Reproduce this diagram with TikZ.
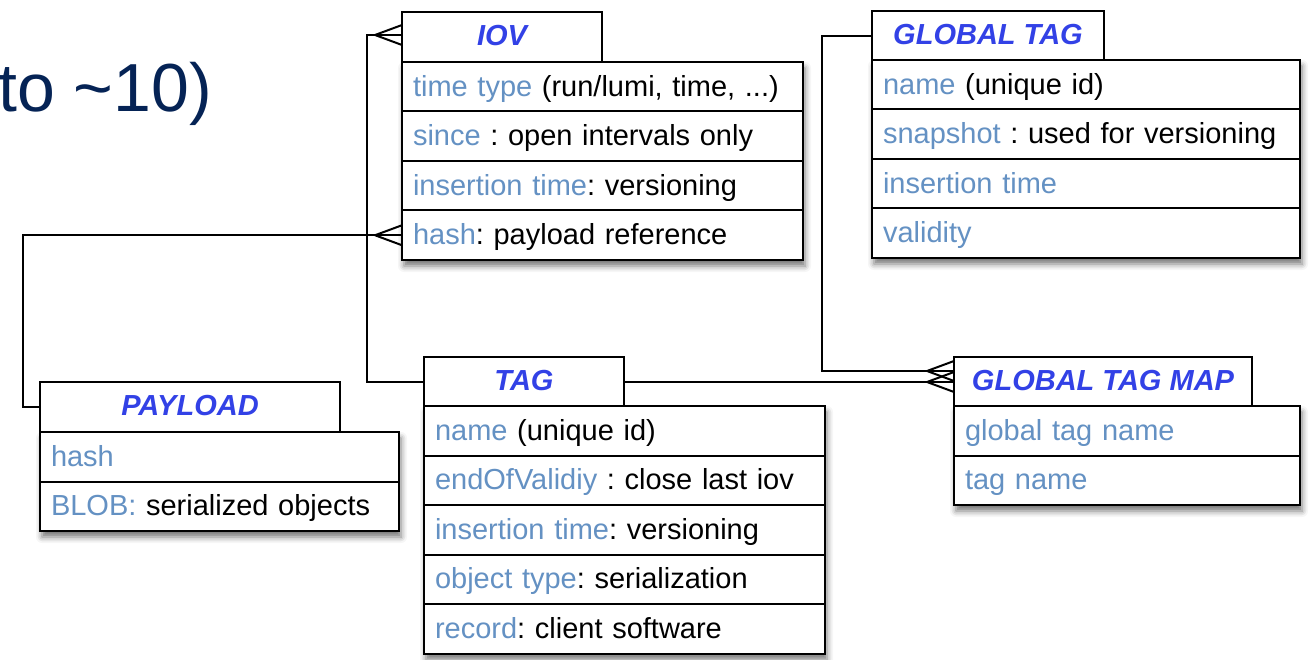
\documentclass[tikz,border=0pt]{standalone}
\usepackage{fontspec}
\setmainfont{Liberation Sans}
\usetikzlibrary{shadows.blur,backgrounds,fit,calc}
\definecolor{fieldblue}{RGB}{100,145,195}
\definecolor{titleblue}{RGB}{50,65,230}
\definecolor{navy}{RGB}{5,35,85}
\newcommand\fn[1]{\textcolor{fieldblue}{#1}}
\newcommand\crow[1]{\draw[conn] ($(#1)+(-27,0)$) -- ($(#1)+(0,-10)$) ($(#1)+(-27,0)$) -- ($(#1)+(0,10)$);}
\frenchspacing
\begin{document}
\begin{tikzpicture}[x=1pt,y=-1pt,
  hdr/.style={draw, line width=2pt, fill=white, anchor=north west, minimum height=50pt, inner sep=0pt, outer sep=0pt,
    text height=21pt, text depth=4pt, font=\fontsize{29}{34}\selectfont\bfseries\itshape, text=titleblue},
  row/.style={draw, line width=2pt, fill=white, anchor=north west, minimum height=49.5pt, inner xsep=11pt, inner ysep=0pt, outer sep=0pt,
    text width=#1, text height=24pt, text depth=5pt, align=left, font=\fontsize{29}{34}\selectfont\frenchspacing},
  conn/.style={line width=2pt},
  shadowbox/.style={fill=white, inner sep=0pt, blur shadow={shadow xshift=2pt, shadow yshift=-6pt, shadow blur radius=6pt, shadow opacity=55}}]
\useasboundingbox (0,0) rectangle (1312,660);

\node[anchor=base west, font=\fontsize{68}{80}\selectfont, text=navy, inner sep=0pt] (title) at (-2,112) {to \textasciitilde10)};

% IOV
\node[hdr, minimum width=200pt] (iovh) at (402,12) {IOV};
\node[row=379pt] (iov1) at (402,62) {\fn{time type} (run/lumi, time, ...)};
\node[row=379pt] (iov2) at (iov1.south west) {\fn{since} : open intervals only};
\node[row=379pt] (iov3) at (iov2.south west) {\fn{insertion time}: versioning};
\node[row=379pt] (iov4) at (iov3.south west) {\fn{hash}: payload reference};

% PAYLOAD
\node[hdr, minimum width=300pt] (payh) at (40,382) {PAYLOAD};
\node[row=337pt] (pay1) at (40,432) {\fn{hash}};
\node[row=337pt] (pay2) at (pay1.south west) {\fn{BLOB:} serialized objects};

% TAG
\node[hdr, minimum width=200pt] (tagh) at (424,357) {TAG};
\node[row=379pt] (tag1) at (424,406) {\fn{name} (unique id)};
\node[row=379pt] (tag2) at (tag1.south west) {\fn{endOfValidiy} : close last iov};
\node[row=379pt] (tag3) at (tag2.south west) {\fn{insertion time}: versioning};
\node[row=379pt] (tag4) at (tag3.south west) {\fn{object type}: serialization};
\node[row=379pt] (tag5) at (tag4.south west) {\fn{record}: client software};

% GLOBAL TAG
\node[hdr, minimum width=232pt] (gth) at (872,11) {GLOBAL TAG};
\node[row=406pt] (gt1) at (872,60) {\fn{name} (unique id)};
\node[row=406pt] (gt2) at (gt1.south west) {\fn{snapshot} : used for versioning};
\node[row=406pt] (gt3) at (gt2.south west) {\fn{insertion time}};
\node[row=406pt] (gt4) at (gt3.south west) {\fn{validity}};

% GLOBAL TAG MAP
\node[hdr, minimum width=298pt] (gtmh) at (954,357) {GLOBAL TAG MAP};
\node[row=324pt] (gtm1) at (954,406) {\fn{global tag name}};
\node[row=324pt] (gtm2) at (gtm1.south west) {\fn{tag name}};

\begin{scope}[on background layer]
\node[shadowbox, fit=(iov1)(iov4)] (iovs) {};
\node[shadowbox, fit=(pay1)(pay2)] (pays) {};
\node[shadowbox, fit=(tag1)(tag5)] (tags) {};
\node[shadowbox, fit=(gt1)(gt4)] (gts) {};
\node[shadowbox, fit=(gtm1)(gtm2)] (gtms) {};
\end{scope}

% connectors
\coordinate (iovin) at ($(iovh.west)+(0,-2)$);
\draw[conn] (iovin) -- ++(-35,0) |- (tagh.west);
\crow{iovin}
\draw[conn] (iov4.west) -| ($(payh.west)+(-17,0)$) -- (payh.west);
\crow{iov4.west}
\draw[conn] (tagh.east) -- (gtmh.west);
\crow{gtmh.west}
\coordinate (gtmin) at ($(gtmh.west)+(0,-11)$);
\draw[conn] (gth.west) -- ++(-50,0) |- (gtmin);
\crow{gtmin}
\end{tikzpicture}
\end{document}
